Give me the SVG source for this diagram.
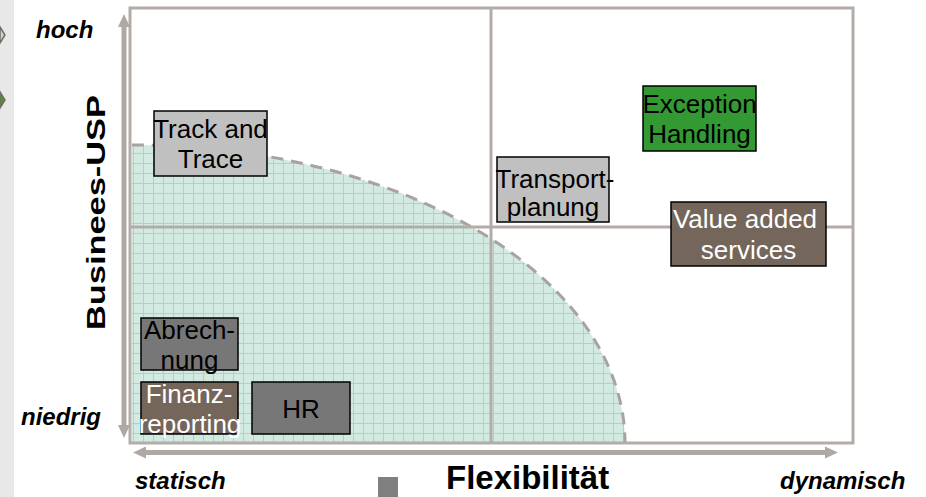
<svg xmlns="http://www.w3.org/2000/svg" width="926" height="497" viewBox="0 0 926 497">
<style>
.ax{fill:#b0a8a4}
.fr{fill:none;stroke:#b4aca8;stroke-width:3}
.box{stroke:#000;stroke-width:1.5}
.t{font-family:"Liberation Sans",Arial,sans-serif;font-size:26px;text-anchor:middle}
.lbl{font-family:"Liberation Sans",Arial,sans-serif;font-size:24px;font-weight:bold;font-style:italic;fill:#000}
.big{font-family:"Liberation Sans",Arial,sans-serif;font-weight:bold;fill:#000}
</style>
<defs>
<pattern id="grid" width="10" height="10" patternUnits="userSpaceOnUse" x="3" y="3">
<rect width="10" height="10" fill="#d2eae2"/>
<path d="M0 0.5H10M0.5 0V10" stroke="#a9d5c6" stroke-width="1"/>
</pattern>
</defs>
<rect width="926" height="497" fill="#fff"/>
<rect x="0" y="0" width="14" height="497" fill="#e8e8e8"/>
<path d="M0 27L5 35L0 43Z" fill="#b8dcd0" stroke="#7a6a60" stroke-width="1.5"/>
<path d="M0 92L5 100L0 108Z" fill="#33a033" stroke="#7a6a60" stroke-width="1.5"/>
<g id="shade">
<path d="M132 443V145A493 298 0 0 1 625 443Z" fill="url(#grid)"/>
<path d="M132 145A493 298 0 0 1 625 443" fill="none" stroke="#aaa2a0" stroke-width="3" stroke-dasharray="12,8"/>
</g>
<g id="frame">
<rect class="fr" x="130" y="8" width="723" height="435"/>
<line class="fr" x1="491" y1="8" x2="491" y2="443"/>
<line class="fr" x1="130" y1="227" x2="853" y2="227"/>
</g>
<g id="axes">
<path class="ax" d="M124 14L130 27H126.5V425H130L124 438L118 425H121.5V27H118Z"/>
<path class="ax" d="M133 452.5L146 446.5V450H825V446.5L838 452.5L825 458.5V455H146V458.5Z"/>
</g>
<g id="track"><rect class="box" x="154" y="111" width="113" height="65" fill="#c0c0c0"/><text class="t" x="210.5" y="138">Track and</text><text class="t" x="210.5" y="168">Trace</text></g>
<g id="transport"><rect class="box" x="497" y="157" width="112" height="65" fill="#c0c0c0"/><text class="t" x="555" y="188">Transport-</text><text class="t" x="553" y="216">planung</text></g>
<g id="exception"><rect class="box" x="643" y="86" width="113" height="65" fill="#339933"/><text class="t" x="699.5" y="113">Exception</text><text class="t" x="699.5" y="143">Handling</text></g>
<g id="value"><rect class="box" x="671" y="202" width="155" height="64" fill="#75665c"/><text class="t" x="745" y="228" fill="#fff">Value added</text><text class="t" x="748.5" y="259" fill="#fff">services</text></g>
<g id="abrechnung"><rect class="box" x="141" y="318" width="97" height="52" fill="#777"/><text class="t" x="189.5" y="339">Abrech-</text><text class="t" x="189.5" y="369">nung</text></g>
<g id="finanz"><rect class="box" x="141" y="382" width="97" height="52" fill="#75665c"/><text class="t" x="189" y="403" fill="#fff">Finanz-</text><text class="t" x="190" y="433" fill="#fff">reporting</text></g>
<g id="hr"><rect class="box" x="252" y="382" width="98" height="52" fill="#777"/><text class="t" x="301" y="418">HR</text></g>
<text class="lbl" x="36" y="38">hoch</text>
<text class="lbl" x="21" y="425">niedrig</text>
<text class="lbl" x="135" y="489">statisch</text>
<text class="lbl" x="780" y="489">dynamisch</text>
<text class="big" x="446" y="489" font-size="33">Flexibilität</text>
<text class="big" transform="translate(105 212.5) rotate(-90)" text-anchor="middle" font-size="26" textLength="235" lengthAdjust="spacingAndGlyphs">Businees-USP</text>
<rect x="378" y="477" width="20" height="20" fill="#808080"/>
</svg>
